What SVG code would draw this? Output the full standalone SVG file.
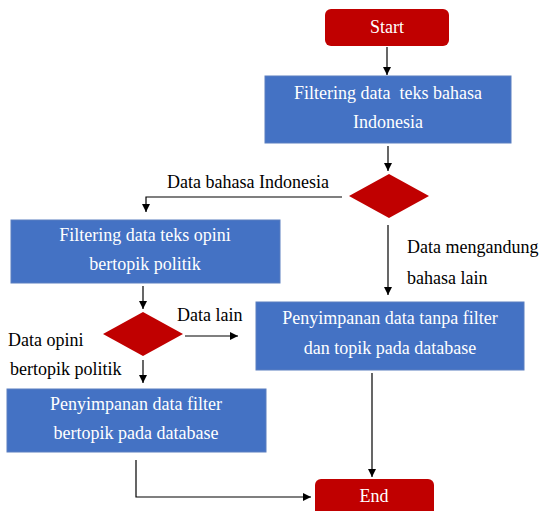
<svg xmlns="http://www.w3.org/2000/svg" width="546" height="511" viewBox="0 0 546 511">
<defs>
<marker id="ah" viewBox="0 0 10 10" refX="10" refY="5" markerWidth="8" markerHeight="8" markerUnits="userSpaceOnUse" orient="auto">
<path d="M0,0 L10,5 L0,10 z" fill="#000"/>
</marker>
</defs>
<style>
.box{fill:#4472C4;stroke:#5b7fc0;stroke-width:1}
.term{fill:#C00000}
.dec{fill:#C00000}
.bt{font-family:'Liberation Serif','Times New Roman','DejaVu Serif',serif;font-size:18px;fill:#fff;text-anchor:middle}
.lb{font-family:'Liberation Serif','Times New Roman','DejaVu Serif',serif;font-size:18px;fill:#000}
.cn{fill:none;stroke:#000;stroke-width:1.2;marker-end:url(#ah)}
</style>
<rect width="546" height="511" fill="#fff"/>
<g id="connectors">
<path class="cn" d="M387,47 V75"/>
<path class="cn" d="M388,146 V171"/>
<path class="cn" d="M342,197 H146 V212"/>
<path class="cn" d="M388,225 V295"/>
<path class="cn" d="M143,286 V309"/>
<path class="cn" d="M185,336 H238"/>
<path class="cn" d="M143,360 V383"/>
<path class="cn" d="M372,373 V477"/>
<path class="cn" d="M136,460 V497 H311"/>
</g>
<g id="start">
<rect class="term" x="325" y="9" width="124" height="37" rx="6"/>
<text class="bt" x="387" y="33">Start</text>
</g>
<g id="filter-bahasa">
<rect class="box" x="265" y="76" width="246" height="67"/>
<text class="bt" x="388" y="99" xml:space="preserve">Filtering data  teks bahasa</text>
<text class="bt" x="388" y="128">Indonesia</text>
</g>
<g id="decision-bahasa">
<polygon class="dec" points="389,174 429,196 389,218 349,196"/>
</g>
<g id="filter-opini">
<rect class="box" x="11" y="220" width="269" height="63"/>
<text class="bt" x="145" y="241">Filtering data teks opini</text>
<text class="bt" x="145" y="270">bertopik politik</text>
</g>
<g id="decision-opini">
<polygon class="dec" points="143,312 183,334 143,356 103,334"/>
</g>
<g id="simpan-tanpa-filter">
<rect class="box" x="256" y="302" width="268" height="68"/>
<text class="bt" x="390" y="324">Penyimpanan data tanpa filter</text>
<text class="bt" x="390" y="354">dan topik pada database</text>
</g>
<g id="simpan-filter">
<rect class="box" x="7" y="389" width="259" height="63"/>
<text class="bt" x="136" y="410">Penyimpanan data filter</text>
<text class="bt" x="136" y="439">bertopik pada database</text>
</g>
<g id="end">
<rect class="term" x="315" y="479" width="119" height="40" rx="6"/>
<text class="bt" x="374" y="502">End</text>
</g>
<g id="labels">
<text class="lb" x="167" y="188">Data bahasa Indonesia</text>
<text class="lb" x="407" y="253">Data mengandung</text>
<text class="lb" x="407" y="284">bahasa lain</text>
<text class="lb" x="177" y="321">Data lain</text>
<text class="lb" x="8" y="346">Data opini</text>
<text class="lb" x="10" y="375">bertopik politik</text>
</g>
</svg>
